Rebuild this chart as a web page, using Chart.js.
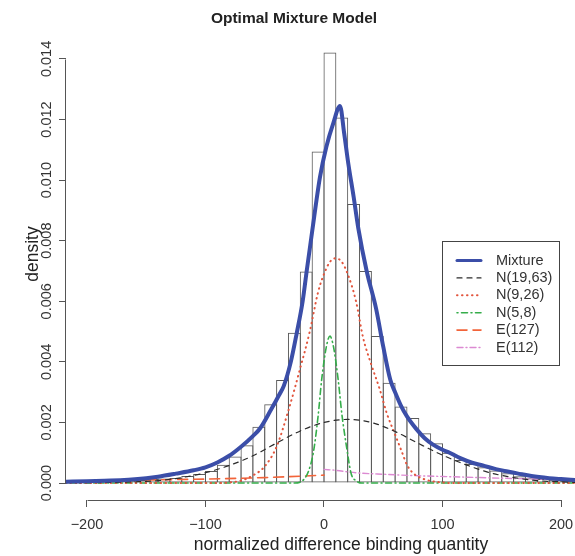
<!DOCTYPE html>
<html>
<head>
<meta charset="utf-8">
<title>Optimal Mixture Model</title>
<script src="https://cdn.jsdelivr.net/npm/chart.js@4.4.1/dist/chart.umd.min.js"></script>
<style>
  html, body { margin: 0; padding: 0; background: #fff; }
  #wrap { width: 575px; height: 556px; }
</style>
</head>
<body>
<div id="wrap"><canvas id="myChart" width="575" height="556"></canvas></div>
<script>
// histogram bins (width 10), mid points and density
const binMids = [-205,-195,-185,-175,-165,-155,-145,-135,-125,-115,-105,-95,-85,-75,-65,-55,-45,-35,-25,-15,-5,
                 5,15,25,35,45,55,65,75,85,95,105,115,125,135,145,155,165,175,185,195,205];
const binDensity = [0.00005,0.00006,0.00006,0.00008,0.00009,0.00010,0.00013,0.00015,0.00017,0.00023,0.00030,
                    0.00040,0.00060,0.00088,0.00125,0.00186,0.00260,0.00340,0.00496,0.00698,0.01094,
                    0.01421,0.01207,0.00921,0.00700,0.00485,0.00331,0.00253,0.00215,0.00164,0.00131,
                    0.00100,0.00076,0.00063,0.00052,0.00041,0.00032,0.00022,0.00016,0.00013,0.00011,0.00008];

// fitted curves
const mixX = [-218,-200,-180,-165,-150,-140,-125,-110,-100,-90,-80,-70,-60,-54,-45,-38,-34,-28,-23,-18,
              -14.6,-10,-7,-3.4,2,8,13.5,17,20.5,25,29,36,44,50,56,60,65,70,78,85,92,100,106,115,125,134,145,155,163,175,190,200,212];
const mixY = [0.00004,0.00006,0.00008,0.00011,0.00016,0.00021,0.00031,0.00042,0.00052,0.00068,0.00090,0.00120,
              0.00155,0.00180,0.00240,0.00290,0.00320,0.00400,0.00495,0.00600,0.00700,0.00830,0.00915,0.01010,
              0.01110,0.01190,0.01245,0.01155,0.01055,0.00945,0.00840,0.00700,0.00575,0.00450,0.00340,
              0.00300,0.00255,0.00220,0.00178,0.00148,0.00127,0.00110,0.00100,0.00082,0.00067,0.00058,0.00046,
              0.00038,0.00032,0.00023,0.00016,0.00013,0.00010];

const n1X = [-218,-180,-160,-140,-120,-100,-80,-60,-40,-20,0,20,40,60,80,100,120,140,160,180,200,212];
const n1Y = [0.00001,0.00002,0.00004,0.00008,0.00018,0.00034,0.00058,0.00090,0.00132,0.00172,0.00200,0.00210,
             0.00200,0.00170,0.00130,0.00092,0.00060,0.00034,0.00018,0.00008,0.00004,0.00002];

const n2X = [-218,-90,-80,-70,-60,-50,-40,-30,-20,-12,-5,0,5,10,15,20,27,33,40,47,53,60,66,70,76,85,95,110,212];
const n2Y = [0,0,0.00002,0.00008,0.00025,0.00055,0.0012,0.0024,0.0038,0.0050,0.0063,0.0069,0.0073,0.00742,0.0073,
             0.0069,0.0060,0.0048,0.0039,0.0031,0.0023,0.0016,0.0010,0.0006,0.0003,0.00012,0.00004,0,0];

const n3X = [-218,-25,-17,-13,-9,-5,-2,2,5,8,12,15,19,23,27,32,212];
const n3Y = [0,0,0.00012,0.0004,0.0010,0.0022,0.0034,0.0045,0.00485,0.0045,0.0034,0.0023,0.0012,0.0003,0.00008,0,0];

const e1X = [-218,-200,-150,-100,-50,0];
const e1Y = [0.00006,0.00007,0.00010,0.00013,0.00018,0.00026];

const e2X = [0,10,22,30,50,80,106,150,212];
const e2Y = [0.00045,0.00042,0.00036,0.00033,0.00029,0.00024,0.00021,0.00016,0.00010];

const xTicks = [-200,-100,0,100,200];
const yTicks = [0,0.002,0.004,0.006,0.008,0.010,0.012,0.014];

const FONT = "'Liberation Sans', Arial, Helvetica, sans-serif";

function pts(xs, ys) {
    return xs.map((x, i) => ({ x: x, y: ys[i] }));
}

function curve(label, xs, ys, color, width, dash, order) {
    return {
        type: 'line',
        label: label,
        data: pts(xs, ys),
        borderColor: color,
        borderWidth: width,
        borderDash: dash,
        borderCapStyle: 'round',
        pointRadius: 0,
        cubicInterpolationMode: 'monotone',
        fill: false,
        order: order
    };
}

// R-like axis lines, axis titles and legend box
const rDecor = {
    id: 'rDecor',
    afterDraw(chart) {
        const { ctx, chartArea } = chart;
        const xs = chart.scales.x, ys = chart.scales.y;
        ctx.save();
        ctx.strokeStyle = '#555';
        ctx.lineWidth = 1;
        ctx.setLineDash([]);
        const by = Math.round(chartArea.bottom) + 0.5;
        const lx = Math.round(chartArea.left) - 0.5;
        ctx.beginPath();
        ctx.moveTo(Math.round(xs.getPixelForValue(xTicks[0])) + 0.5, by);
        ctx.lineTo(Math.round(xs.getPixelForValue(xTicks[xTicks.length - 1])) + 0.5, by);
        ctx.moveTo(lx, Math.round(ys.getPixelForValue(yTicks[0])) + 0.5);
        ctx.lineTo(lx, Math.round(ys.getPixelForValue(yTicks[yTicks.length - 1])) + 0.5);
        ctx.stroke();

        // axis titles
        ctx.fillStyle = '#222';
        ctx.font = '17.5px ' + FONT;
        ctx.textAlign = 'center';
        ctx.textBaseline = 'middle';
        ctx.fillText('normalized difference binding quantity', 341, 545);
        ctx.save();
        ctx.translate(33, 254);
        ctx.rotate(-Math.PI / 2);
        ctx.fillText('density', 0, 0);
        ctx.restore();

        // legend
        ctx.strokeStyle = '#444';
        ctx.strokeRect(442.5, 241.5, 117, 124);
        ctx.font = '14.5px ' + FONT;
        ctx.textAlign = 'left';
        const lines = chart.data.datasets.filter(d => d.type === 'line');
        lines.forEach((d, i) => {
            const yy = 260.5 + i * 17.4;
            ctx.strokeStyle = d.borderColor;
            ctx.lineWidth = Math.min(d.borderWidth, 3);
            ctx.lineCap = 'round';
            ctx.setLineDash(d.borderDash || []);
            ctx.beginPath();
            ctx.moveTo(457, yy);
            ctx.lineTo(481, yy);
            ctx.stroke();
            ctx.fillStyle = '#333';
            ctx.fillText(d.label, 496, yy);
        });
        ctx.restore();
    }
};

try {
    const ctx = document.getElementById('myChart').getContext('2d');
    new Chart(ctx, {
        data: {
            datasets: [
                curve('Mixture', mixX, mixY, '#3b4ea8', 4, [], 0),
                curve('N(19,63)', n1X, n1Y, '#2b2b2b', 1.2, [5, 5], 1),
                curve('N(9,26)', n2X, n2Y, '#e2553d', 2, [0.5, 4.5], 2),
                curve('N(5,8)', n3X, n3Y, '#35ad4a', 1.6, [1, 3.5, 6, 3.5], 3),
                curve('E(127)', e1X, e1Y, '#f2643a', 1.6, [10, 6], 4),
                curve('E(112)', e2X, e2Y, '#dc8ad2', 1.4, [6, 3, 1, 3], 5),
                {
                    type: 'bar',
                    label: 'histogram',
                    data: pts(binMids, binDensity),
                    backgroundColor: 'rgba(255,255,255,0)',
                    borderColor: '#5a5a5a',
                    borderWidth: 1,
                    borderSkipped: false,
                    barPercentage: 1.085,
                    categoryPercentage: 1,
                    grouped: false,
                    order: 10
                }
            ]
        },
        options: {
            responsive: false,
            animation: false,
            devicePixelRatio: 1,
            layout: { padding: { left: 13, right: 0, top: 0, bottom: 0 } },
            plugins: {
                legend: { display: false },
                tooltip: { enabled: false },
                title: {
                    display: true,
                    text: 'Optimal Mixture Model',
                    color: '#222',
                    font: { family: FONT, size: 15.5, weight: 'bold' },
                    padding: { top: 9, bottom: 8 }
                }
            },
            scales: {
                x: {
                    type: 'linear',
                    position: 'bottom',
                    offset: false,
                    min: -217.7,
                    max: 211.8,
                    afterBuildTicks: s => { s.ticks = xTicks.map(v => ({ value: v })); },
                    afterFit: s => { s.height = 56; s.paddingLeft = 0; s.paddingRight = 0; },
                    grid: { offset: false, drawOnChartArea: false, drawTicks: true, tickLength: 7, color: '#555' },
                    border: { display: false },
                    ticks: {
                        color: '#333',
                        font: { family: FONT, size: 14.5 },
                        padding: 9,
                        maxRotation: 0,
                        autoSkip: false,
                        callback: v => v < 0 ? '\u2212' + Math.abs(v) : String(v)
                    }
                },
                y: {
                    type: 'linear',
                    min: -0.00056,
                    max: 0.01477,
                    afterBuildTicks: s => { s.ticks = yTicks.map(v => ({ value: v })); },
                    afterFit: s => { s.width = 53; s.paddingTop = 0; s.paddingBottom = 0; },
                    grid: { drawOnChartArea: false, drawTicks: true, tickLength: 7, color: '#555' },
                    border: { display: false },
                    ticks: {
                        color: '#333',
                        font: { family: FONT, size: 14.5 },
                        minRotation: 90,
                        maxRotation: 90,
                        crossAlign: 'center',
                        padding: -6.5,
                        autoSkip: false,
                        callback: v => v.toFixed(3)
                    }
                }
            }
        },
        plugins: [rDecor]
    });
} catch (error) {
    console.error('Erreur:', error);
}
</script>
</body>
</html>
